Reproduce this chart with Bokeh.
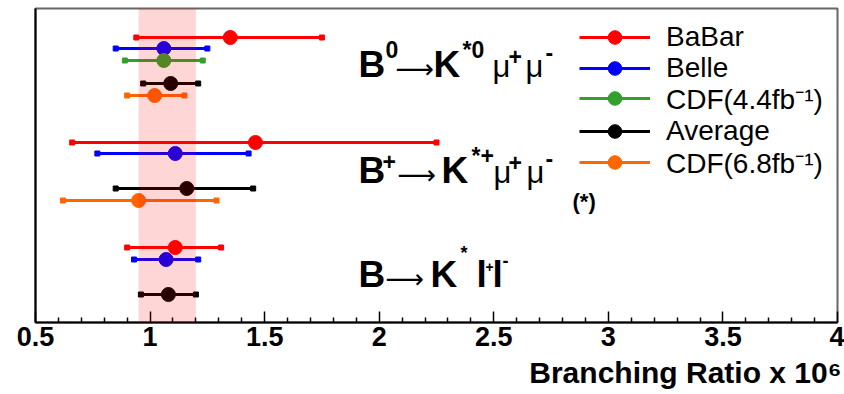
from bokeh.plotting import figure
from bokeh.models import (ColumnDataSource, Legend, LegendItem, Label, Title,
                          BoxAnnotation, FixedTicker, LinearAxis, Range1d)
from bokeh.embed import file_html
from bokeh.resources import INLINE

# Branching ratios (x 10^6): central value, lower and upper edge of the error bar.
# Order of decays: B0 -> K*0 mu mu, B+ -> K*+ mu mu, B -> K* l l
babar_br = [1.35, 1.46, 1.11]
babar_lo = [0.94, 0.66, 0.90]
babar_hi = [1.75, 2.25, 1.31]

belle_br = [1.06, 1.11, 1.07]
belle_lo = [0.85, 0.77, 0.93]
belle_hi = [1.25, 1.43, 1.21]

cdf44_br = [1.06]
cdf44_lo = [0.89]
cdf44_hi = [1.23]

average_br = [1.09, 1.16, 1.08]
average_lo = [0.97, 0.85, 0.96]
average_hi = [1.21, 1.45, 1.20]

cdf68_br = [1.02, 0.95]
cdf68_lo = [0.90, 0.62]
cdf68_hi = [1.15, 1.29]

# World-average band
band_lo, band_hi = 0.95, 1.20

x_ticks = [0.5, 1.0, 1.5, 2.0, 2.5, 3.0, 3.5, 4.0]
x_tick_labels = ["0.5", "1", "1.5", "2", "2.5", "3", "3.5", "4"]

# Vertical slot of every measurement row (layout only)
row_y = {
    "BaBar": [28.5, 18.0, 7.5],
    "Belle": [27.4, 16.9, 6.3],
    "CDF(4.4fb⁻¹)": [26.2],
    "Average": [23.9, 13.4, 2.8],
    "CDF(6.8fb⁻¹)": [22.7, 12.2],
}

series = [
    ("BaBar", babar_br, babar_lo, babar_hi, "#ff0000"),
    ("Belle", belle_br, belle_lo, belle_hi, "#0000ff"),
    ("CDF(4.4fb⁻¹)", cdf44_br, cdf44_lo, cdf44_hi, "#33a02c"),
    ("Average", average_br, average_lo, average_hi, "#000000"),
    ("CDF(6.8fb⁻¹)", cdf68_br, cdf68_lo, cdf68_hi, "#ff6600"),
]

FONT = "Liberation Sans"

p = figure(width=844, height=394, output_backend="svg", toolbar_location=None,
           x_range=Range1d(0.5, 4.0), y_range=Range1d(0, 31.4),
           min_border_left=35, min_border_right=7, min_border_top=8,
           min_border_bottom=72, y_axis_location=None)
p.background_fill_color = "white"
p.border_fill_color = "white"
p.grid.visible = False
p.outline_line_color = "#666666"
p.outline_line_width = 2

# Bottom axis, ROOT style: ticks pointing into the frame
xa = p.xaxis[0]
minor = [round(0.5 + 0.1 * i, 1) for i in range(36) if i % 5]
xa.ticker = FixedTicker(ticks=x_ticks, minor_ticks=minor)
xa.major_label_overrides = dict(zip(x_ticks, x_tick_labels))
xa.major_tick_in = 11
xa.major_tick_out = 0
xa.minor_tick_in = 5
xa.minor_tick_out = 0
xa.axis_line_width = 2
xa.major_tick_line_width = 1.5
xa.minor_tick_line_width = 1.5
xa.major_label_text_font = FONT
xa.major_label_text_font_style = "bold"
xa.major_label_text_font_size = "27px"
xa.major_label_text_color = "black"
xa.major_label_standoff = 4

left = LinearAxis(ticker=FixedTicker(ticks=[]), axis_line_width=2,
                  major_label_text_font_size="0px", major_tick_in=0,
                  major_tick_out=0, minor_tick_in=0, minor_tick_out=0)
p.add_layout(left, "left")

# Axis title, right-aligned under the tick labels
p.add_layout(Title(text="Branching Ratio x 10⁶", align="right",
                   text_font=FONT, text_font_size="30px",
                   text_font_style="bold", text_color="black",
                   standoff=10, offset=-4), "below")

items = []
for name, br, lo, hi, color in series:
    src = ColumnDataSource(dict(br=br, lo=lo, hi=hi, y=row_y[name]))
    seg = p.segment(x0="lo", x1="hi", y0="y", y1="y", source=src,
                    line_color=color, line_width=3)
    p.scatter(x="lo", y="y", source=src, marker="square", size=5,
              fill_color=color, line_color=color)
    p.scatter(x="hi", y="y", source=src, marker="square", size=5,
              fill_color=color, line_color=color)
    dot = p.scatter(x="br", y="y", source=src, marker="circle", size=14,
                    fill_color=color, line_color=color)
    items.append(LegendItem(label=name, renderers=[seg, dot]))

band = BoxAnnotation(left=band_lo, right=band_hi,
                     fill_color="#ff0000", fill_alpha=0.16, line_alpha=0,
                     level="overlay")
p.add_layout(band)

# One legend box per entry so the rows sit at ROOT's spacing
legend_bottoms = [268, 237, 205, 174, 141]
for item, yb in zip(items, legend_bottoms):
    lg = Legend(items=[item], location=(544, yb), padding=0, margin=0,
                spacing=0, glyph_width=71, glyph_height=34, label_height=31,
                label_standoff=16, label_text_font=FONT,
                label_text_font_size="28px", label_text_color="black",
                border_line_alpha=0, background_fill_alpha=0)
    p.add_layout(lg, "center")


def put(text, x, y, size, bold=True, font=FONT):
    # lift by a fraction of the size so that y is the glyph baseline
    p.add_layout(Label(x=x, y=y + 0.35 * size, x_units="screen", y_units="screen",
                       text=text, text_font=font, text_font_size=f"{size}px",
                       text_font_style="bold" if bold else "normal",
                       text_color="black", text_baseline="alphabetic",
                       text_align="left"))


def formula(x0, y0, parts):
    for text, dx, dy, size, bold, font in parts:
        put(text, x0 + dx, y0 + dy, size, bold, font)


DV = "DejaVu Sans"
formula(323, 245, [
    ("B", 0, 0, 37, True, FONT), ("0", 27, 20, 23, True, FONT),
    ("⟶", 37, 0, 27, False, DV),
    ("K", 75, 0, 37, True, FONT), ("*0", 104, 19, 23, True, FONT),
    ("μ", 134, 0, 31, False, FONT), ("+", 150, 13, 23, True, FONT),
    ("μ", 167, 0, 31, False, FONT), ("-", 187, 17, 23, True, FONT),
])
formula(323, 139, [
    ("B", 0, 0, 37, True, FONT), ("+", 24, 14, 23, True, FONT),
    ("⟶", 39, 0, 27, False, DV),
    ("K", 83, 0, 37, True, FONT), ("*+", 113, 19, 23, True, FONT),
    ("μ", 135, 0, 31, False, FONT), ("+", 150, 13, 23, True, FONT),
    ("μ", 168, 0, 31, False, FONT), ("-", 187, 17, 23, True, FONT),
])
formula(323, 35, [
    ("B", 0, 0, 37, True, FONT), ("⟶", 27, 0, 27, False, DV),
    ("K", 72, 0, 37, True, FONT), ("*", 102, 28, 18, True, FONT),
    ("l", 118, 0, 37, True, FONT), ("+", 127, 16, 14, True, FONT),
    ("l", 134, 0, 37, True, FONT), ("-", 144, 21, 18, True, FONT),
])
put("(*)", 537, 113, 22)

open("out.html", "w").write(file_html(p, INLINE))
